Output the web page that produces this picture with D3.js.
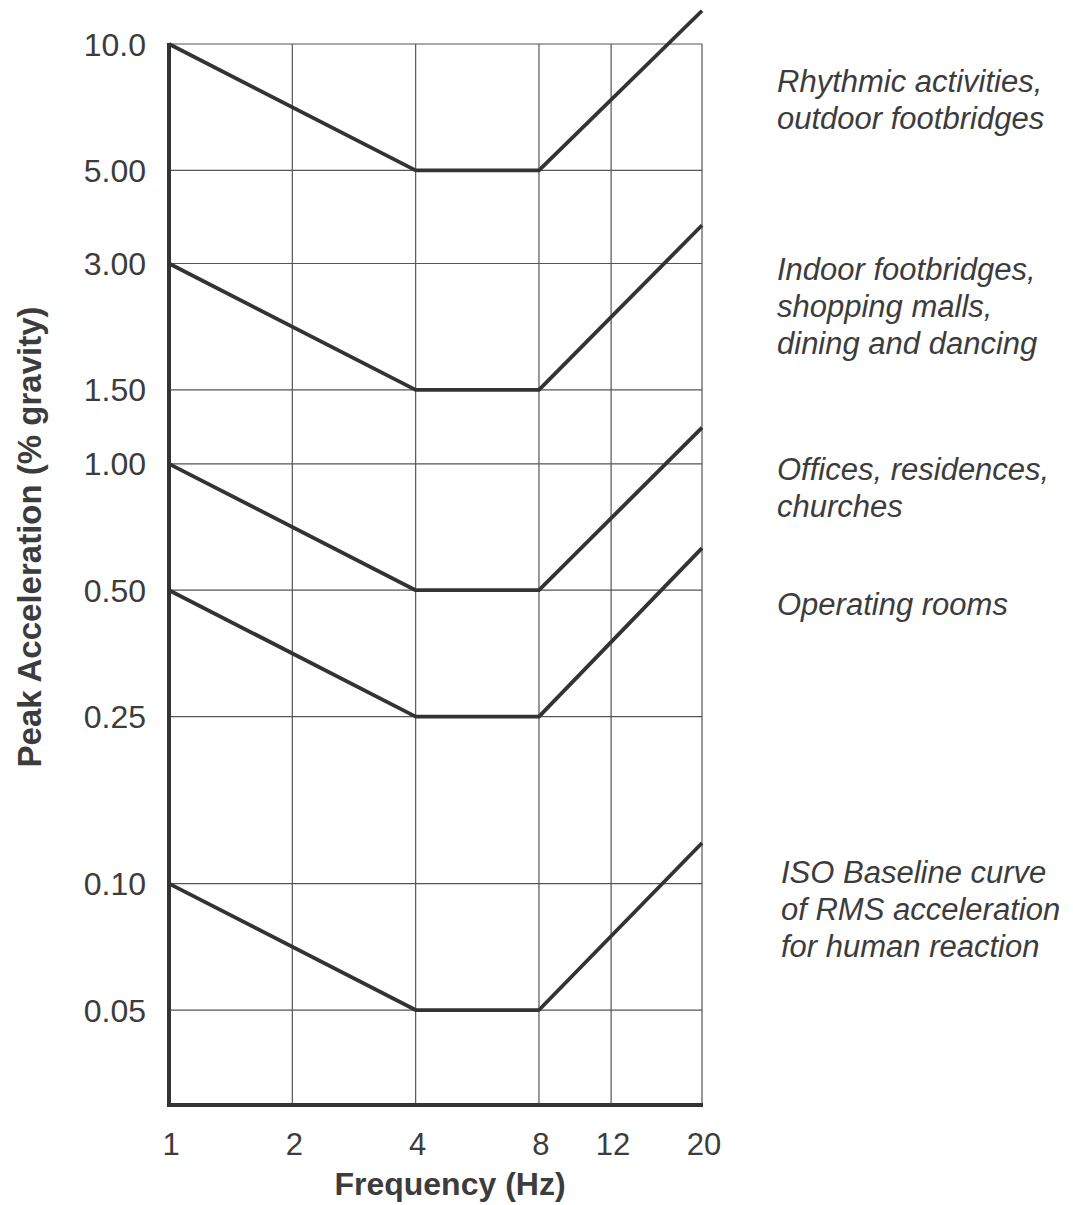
<!DOCTYPE html>
<html>
<head>
<meta charset="utf-8">
<script src="https://cdn.jsdelivr.net/npm/d3@7"></script>
<style>
  body { margin: 0; background: #fff; }
  svg text { font-family: "Liberation Sans", Arial, Helvetica, sans-serif; fill: #3c3c3c; }
</style>
</head>
<body>
<svg width="1073" height="1205"></svg>
<script>
// frequencies (Hz) where the curves bend
const frequencies = [1, 4, 8, 20];

// peak acceleration (% gravity) for each curve
const rhythmic   = [10, 5, 5, 12];
const indoor     = [3, 1.5, 1.5, 3.7];
const offices    = [1, 0.5, 0.5, 1.22];
const operating  = [0.5, 0.25, 0.25, 0.63];
const isoBase    = [0.1, 0.05, 0.05, 0.125];

const xTicks = [1, 2, 4, 8, 12, 20];
const yTicks = [10, 5, 3, 1.5, 1, 0.5, 0.25, 0.1, 0.05];
const yTickLabels = ['10.0', '5.00', '3.00', '1.50', '1.00', '0.50', '0.25', '0.10', '0.05'];

const labels = [
  {lines: ['Rhythmic activities,', 'outdoor footbridges'], y: 92},
  {lines: ['Indoor footbridges,', 'shopping malls,', 'dining and dancing'], y: 280},
  {lines: ['Offices, residences,', 'churches'], y: 480},
  {lines: ['Operating rooms'], y: 615},
  {lines: ['ISO Baseline curve', 'of RMS acceleration', 'for human reaction'], y: 883, dx: 4}
];

const series = [rhythmic, indoor, offices, operating, isoBase];

const svg = d3.select('svg');
const plotLeft = 169, plotRight = 702, plotTop = 44, plotBottom = 1105;

const x = d3.scaleLog().domain([1, 20]).range([plotLeft, plotRight]);
const y = d3.scaleLog().domain([0.0297, 10]).range([plotBottom, plotTop]);

const g = svg.append('g');

// grille
g.selectAll('.hgrid')
  .data(yTicks)
  .enter().append('line')
  .attr('class', 'hgrid')
  .attr('x1', plotLeft).attr('x2', x(20))
  .attr('y1', d => y(d)).attr('y2', d => y(d))
  .attr('stroke', '#555').attr('stroke-width', 1.2);

g.selectAll('.vgrid')
  .data(xTicks.slice(1))
  .enter().append('line')
  .attr('class', 'vgrid')
  .attr('x1', d => x(d)).attr('x2', d => x(d))
  .attr('y1', plotTop).attr('y2', plotBottom)
  .attr('stroke', '#555').attr('stroke-width', 1.2);

// courbes
const line = d3.line()
  .x((d, i) => x(frequencies[i]))
  .y(d => y(d));

g.selectAll('.curve')
  .data(series)
  .enter().append('path')
  .attr('class', 'curve')
  .attr('d', line)
  .attr('fill', 'none')
  .attr('stroke', '#333')
  .attr('stroke-width', 3.8)
  .attr('stroke-linejoin', 'round');

// axes épais
g.append('line')
  .attr('x1', plotLeft).attr('x2', plotLeft)
  .attr('y1', plotTop - 1).attr('y2', plotBottom + 2)
  .attr('stroke', '#333').attr('stroke-width', 4);
g.append('line')
  .attr('x1', plotLeft - 2).attr('x2', x(20) + 1)
  .attr('y1', plotBottom).attr('y2', plotBottom)
  .attr('stroke', '#333').attr('stroke-width', 4);

// étiquettes des ticks
g.selectAll('.ylab')
  .data(yTicks)
  .enter().append('text')
  .attr('class', 'ylab')
  .attr('x', plotLeft - 23)
  .attr('y', d => y(d))
  .attr('dy', '0.36em')
  .attr('text-anchor', 'end')
  .attr('font-size', 32)
  .text((d, i) => yTickLabels[i]);

g.selectAll('.xlab')
  .data(xTicks)
  .enter().append('text')
  .attr('class', 'xlab')
  .attr('x', d => x(d) + 2)
  .attr('y', 1155)
  .attr('text-anchor', 'middle')
  .attr('font-size', 31)
  .text(d => d);

// titres des axes
svg.append('text')
  .attr('x', 450).attr('y', 1195)
  .attr('text-anchor', 'middle')
  .attr('font-size', 32)
  .attr('font-weight', 'bold')
  .text('Frequency (Hz)');

svg.append('text')
  .attr('transform', 'translate(41,537) rotate(-90)')
  .attr('text-anchor', 'middle')
  .attr('font-size', 33)
  .attr('font-weight', 'bold')
  .text('Peak Acceleration (% gravity)');

// annotations à droite
labels.forEach(l => {
  const t = svg.append('text')
    .attr('x', 777 + (l.dx || 0))
    .attr('y', l.y)
    .attr('font-size', 31)
    .attr('font-style', 'italic');
  l.lines.forEach((s, i) => {
    t.append('tspan')
      .attr('x', 777 + (l.dx || 0))
      .attr('y', l.y + i * 37)
      .text(s);
  });
});
</script>
</body>
</html>
